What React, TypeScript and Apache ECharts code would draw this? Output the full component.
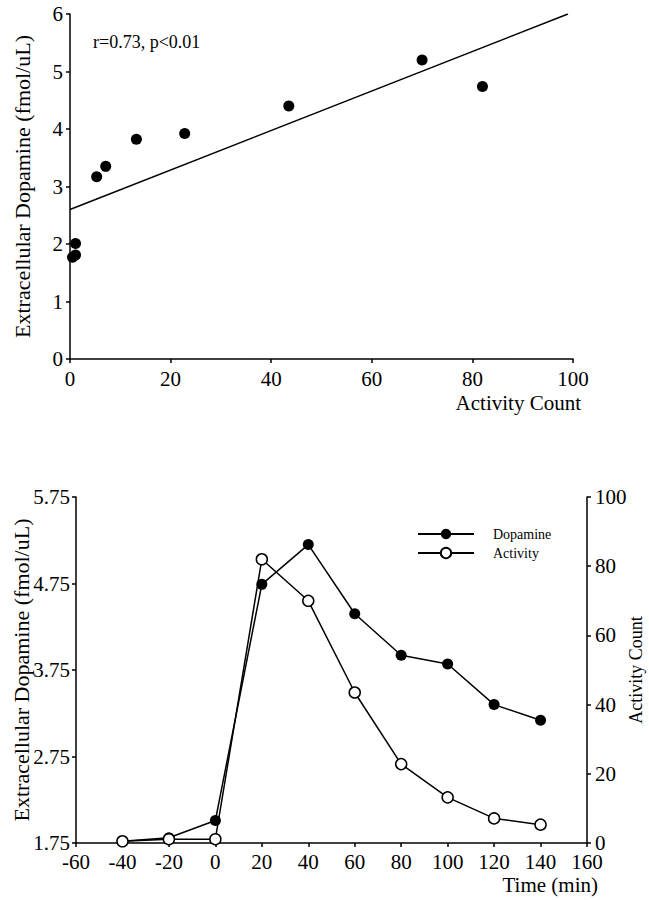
import React, { useEffect, useRef } from "react";
import * as echarts from "echarts";

// Time points (min) for the time-course chart
const timeMin = [-40, -20, 0, 20, 40, 60, 80, 100, 120, 140];
// Extracellular dopamine (fmol/uL)
const dopamine = [1.77, 1.81, 2.01, 4.74, 5.2, 4.4, 3.92, 3.82, 3.35, 3.17];
// Activity count
const activity = [0.5, 1.1, 1.1, 82, 70, 43.5, 22.8, 13.2, 7.1, 5.3];
// Regression line end points
const fitX = [0, 99];
const fitY = [2.6, 6.0];
// Tick values
const dopTicks = [1.75, 2.75, 3.75, 4.75, 5.75];
const corrText = "r=0.73, p<0.01";

const FONT = "Liberation Serif";

export default function App() {
  const ref = useRef<HTMLDivElement>(null);
  useEffect(() => {
    if (!ref.current) return;
    const chart = echarts.init(ref.current, null, { renderer: "svg" });
    const axisCommon = {
      splitLine: { show: false },
      nameMoveOverlap: false,
      axisLine: { show: true, onZero: false, lineStyle: { color: "#000", width: 1.5 } },
      axisTick: { show: true, inside: false, length: 4, lineStyle: { color: "#000", width: 1.5 } },
      axisLabel: { fontSize: 21, color: "#000", fontFamily: FONT, hideOverlap: false },
      nameTextStyle: { fontSize: 21, color: "#000", fontFamily: FONT },
    };
    const scatterData = activity.map((a, i) => [a, dopamine[i]]);
    const fitData = fitX.map((x, i) => [x, fitY[i]]);
    const option = {
      animation: false,
      backgroundColor: "#fff",
      textStyle: { fontFamily: FONT, color: "#000" },
      title: {
        text: corrText,
        left: 93,
        top: 33,
        padding: 0,
        textStyle: { fontSize: 18, fontWeight: "normal", fontFamily: FONT, color: "#000" },
      },
      grid: [
        { left: 70, right: 76, top: 14, bottom: 541, containLabel: false, outerBoundsMode: "none" },
        { left: 76, right: 62, top: 497, bottom: 57, containLabel: false, outerBoundsMode: "none" },
      ],
      legend: {
        data: ["Dopamine", "Activity"],
        orient: "vertical",
        left: 417,
        top: 527,
        padding: 0,
        itemWidth: 56,
        itemHeight: 13,
        itemGap: 5,
        textStyle: { fontSize: 14, fontFamily: FONT, color: "#000", padding: [0, 0, 0, 14], lineHeight: 14 },
      },
      xAxis: [
        {
          ...axisCommon,
          gridIndex: 0,
          type: "value",
          min: 0,
          max: 100,
          interval: 20,
          axisLabel: { ...axisCommon.axisLabel, margin: 9 },
          name: "Activity Count",
          nameLocation: "end",
          nameGap: 8,
          nameTextStyle: { ...axisCommon.nameTextStyle, align: "right", verticalAlign: "top", padding: [33, 0, 0, 0] },
        },
        {
          ...axisCommon,
          gridIndex: 1,
          type: "value",
          min: -60,
          max: 160,
          interval: 20,
          axisLabel: { ...axisCommon.axisLabel, margin: 8 },
          name: "Time (min)",
          nameLocation: "end",
          nameGap: 11,
          nameTextStyle: { ...axisCommon.nameTextStyle, align: "right", verticalAlign: "top", padding: [31, 0, 0, 0] },
        },
      ],
      yAxis: [
        {
          ...axisCommon,
          gridIndex: 0,
          type: "value",
          min: 0,
          max: 6,
          interval: 1,
          axisLabel: { ...axisCommon.axisLabel, margin: 7 },
          name: "Extracellular Dopamine (fmol/uL)",
          nameLocation: "middle",
          nameGap: 37,
          nameTextStyle: { ...axisCommon.nameTextStyle, fontSize: 22 },
        },
        {
          ...axisCommon,
          gridIndex: 1,
          type: "value",
          min: 1.75,
          max: 5.75,
          axisTick: { ...axisCommon.axisTick, customValues: dopTicks },
          axisLabel: {
            ...axisCommon.axisLabel,
            margin: 6,
            customValues: dopTicks,
            formatter: (v: number) => v.toFixed(2),
          },
          name: "Extracellular Dopamine (fmol/uL)",
          nameLocation: "middle",
          nameGap: 44,
          nameTextStyle: { ...axisCommon.nameTextStyle, fontSize: 22 },
        },
        {
          ...axisCommon,
          gridIndex: 1,
          type: "value",
          position: "right",
          min: 0,
          max: 100,
          interval: 20,
          axisLabel: { ...axisCommon.axisLabel, margin: 8 },
          name: "Activity Count",
          nameLocation: "middle",
          nameRotate: 90,
          nameGap: 40,
          nameTextStyle: { ...axisCommon.nameTextStyle, fontSize: 18 },
        },
      ],
      series: [
        {
          name: "Activity vs Dopamine",
          type: "scatter",
          xAxisIndex: 0,
          yAxisIndex: 0,
          data: scatterData,
          symbol: "circle",
          symbolSize: 11,
          itemStyle: { color: "#000", opacity: 1 },
          z: 3,
        },
        {
          name: "Fit",
          type: "line",
          xAxisIndex: 0,
          yAxisIndex: 0,
          data: fitData,
          showSymbol: false,
          symbol: "none",
          lineStyle: { color: "#000", width: 1.5 },
          z: 2,
        },
        {
          name: "Dopamine",
          type: "line",
          xAxisIndex: 1,
          yAxisIndex: 1,
          data: timeMin.map((t, i) => [t, dopamine[i]]),
          symbol: "circle",
          symbolSize: 11,
          itemStyle: { color: "#000" },
          lineStyle: { color: "#000", width: 1.5 },
          z: 2,
        },
        {
          name: "Activity",
          type: "line",
          xAxisIndex: 1,
          yAxisIndex: 2,
          data: timeMin.map((t, i) => [t, activity[i]]),
          symbol: "circle",
          symbolSize: 11,
          itemStyle: { color: "#fff", borderColor: "#000", borderWidth: 1.5 },
          lineStyle: { color: "#000", width: 1.5 },
          z: 3,
        },
      ],
    };
    chart.setOption(option as any);
    return () => chart.dispose();
  }, []);
  return (
    <div
      ref={ref}
      style={{ position: "absolute", left: 0, top: 0, width: 649, height: 900, background: "#fff" }}
    />
  );
}
